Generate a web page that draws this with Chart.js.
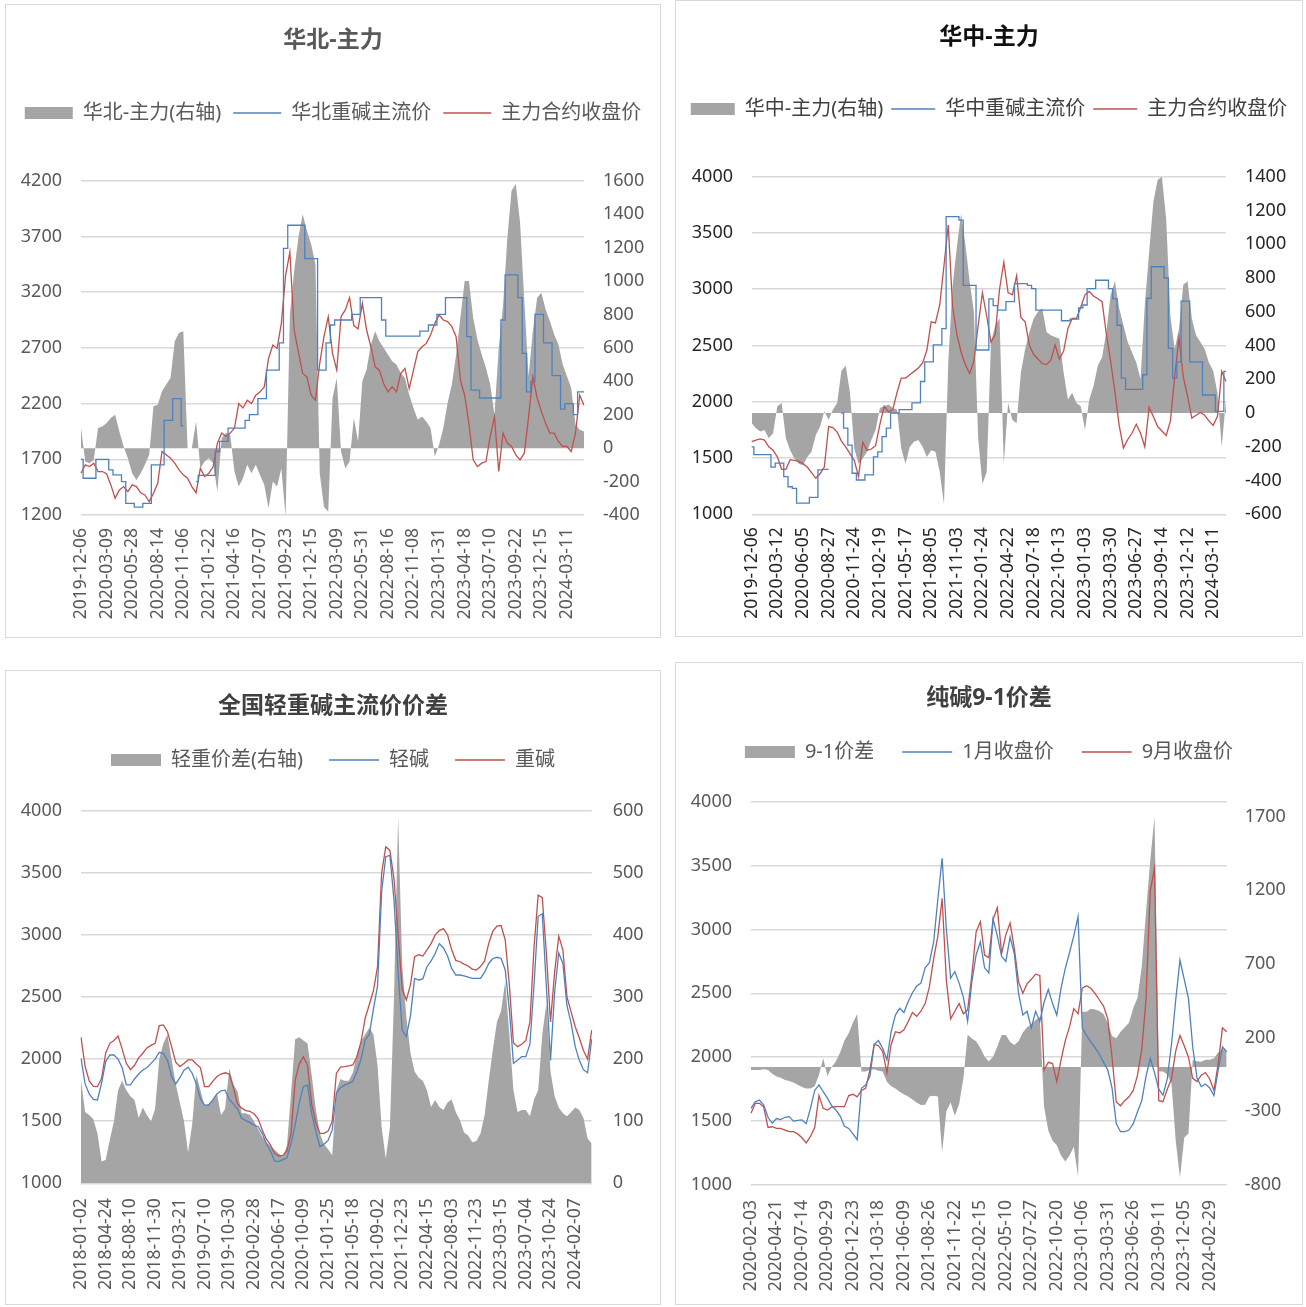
<!DOCTYPE html>
<html>
<head>
<meta charset="utf-8">
<script src="https://cdn.jsdelivr.net/npm/chart.js@4.4.0/dist/chart.umd.min.js"></script>
<style>
body { margin: 0; background: #fff; width: 1306px; height: 1307px; position: relative; overflow: hidden; }
.panel { position: absolute; border: 1px solid #d9d9d9; box-sizing: border-box; background: #fff; }
.panel canvas { display: block; }
</style>
</head>
<body>
<div class="panel" style="left:5px;top:4px;width:656px;height:634px"><canvas id="north" width="654" height="632"></canvas></div>
<div class="panel" style="left:675px;top:0px;width:628px;height:637px"><canvas id="central" width="626" height="635"></canvas></div>
<div class="panel" style="left:5px;top:670px;width:656px;height:635px"><canvas id="lightheavy" width="654" height="633"></canvas></div>
<div class="panel" style="left:675px;top:662px;width:628px;height:643px"><canvas id="spread91" width="626" height="641"></canvas></div>
<script>
// 华北-主力
var northDates = ['2019-12-06','2020-03-09','2020-05-28','2020-08-14','2020-11-06','2021-01-22','2021-04-16','2021-07-07','2021-09-23','2021-12-15','2022-03-09','2022-05-31','2022-08-16','2022-11-08','2023-01-31','2023-04-18','2023-07-10','2023-09-22','2023-12-15','2024-03-11'];
var northBasis = [120,-80,-90,-70,120,130,150,180,200,100,
  10,-60,-150,-190,-150,-100,-40,250,260,340,
  380,420,640,690,700,0,0,160,-120,-80,
  -60,-90,-260,60,90,80,-140,-230,-180,-100,
  -150,-100,-160,-220,-360,-200,-230,-120,-410,800,
  1060,1260,1400,1300,1220,1100,-150,-350,-380,300,
  420,-20,-120,-80,180,40,400,470,620,700,
  640,600,560,520,500,450,420,320,240,170,
  190,160,120,-50,20,120,270,380,560,780,
  1000,1000,780,650,560,480,380,200,600,850,
  1250,1540,1580,1350,880,430,700,900,930,830,
  760,680,620,500,430,360,140,110,100];
var northSpot = [1700,1530,1530,1530,1700,1700,1700,1605,1560,1560,
  1500,1305,1305,1270,1270,1305,1305,1650,1650,1650,
  2050,2050,2245,2245,2000,null,null,1500,1555,1555,
  1555,1555,1770,1860,1860,1980,1980,1980,1980,2050,
  2100,2100,2245,2245,2500,2500,2500,2745,3593,3800,
  3800,3800,3800,3500,3500,3500,2500,2500,2745,2905,
  2950,2950,2950,2950,3000,3000,3150,3150,3150,3150,
  3150,2950,2805,2805,2805,2805,2805,2805,2805,2805,
  2850,2850,2905,2905,3000,3000,3150,3150,3150,3150,
  3150,2800,2320,2320,2250,2250,2250,2250,2250,2950,
  3355,3355,3355,3150,2650,2305,2400,3000,3000,2745,
  2745,2450,2450,2150,2200,2200,2100,2305,2305];
var northFuture = [1574,1650,1635,1665,1590,1590,1570,1470,1350,1425,
  1455,1410,1470,1455,1400,1380,1320,1395,1485,1770,
  1740,1710,1665,1605,1560,1530,1455,1400,1620,1545,
  1575,1635,1845,1935,1905,1935,1980,2200,2160,2230,
  2200,2275,2305,2350,2605,2725,2695,2920,3350,3560,
  2860,2665,2470,2440,2275,2230,2560,2800,2980,2650,
  2500,2980,3040,3150,2900,2870,3100,2860,2710,2530,
  2500,2380,2305,2350,2305,2470,2515,2335,2500,2665,
  2710,2740,2815,2920,2995,2950,2935,2890,2800,2410,
  2275,2020,1695,1635,1665,1680,1905,2080,1590,1935,
  1845,1815,1740,1695,1755,2080,2440,2250,2130,2020,
  1935,1935,1860,1815,1815,1770,1935,2275,2185];

// 华中-主力
var centralDates = ['2019-12-06','2020-03-12','2020-06-05','2020-08-27','2020-11-24','2021-02-19','2021-05-17','2021-08-05','2021-11-03','2022-01-24','2022-04-22','2022-07-18','2022-10-13','2023-01-03','2023-03-30','2023-06-27','2023-09-14','2023-12-12','2024-03-11'];
var centralBasis = [-60,-90,-110,-100,-150,-120,40,60,-150,-220,
  -270,-300,-310,-260,-230,-130,-80,10,-40,20,
  60,250,280,120,-210,-300,-270,-230,-160,-100,
  30,40,50,30,20,-210,-300,-200,-170,-160,
  -200,-260,-220,-230,-350,-540,300,750,980,1180,
  1000,780,600,-150,-420,-350,420,520,560,-300,
  60,-40,-60,240,380,480,560,600,620,480,
  460,450,440,240,80,120,60,40,-100,80,
  160,280,330,480,700,780,620,520,420,360,
  300,200,640,950,1250,1380,1400,1150,570,380,
  500,760,780,560,460,420,380,300,250,120,
  -200,80];
var centralSpot = [1600,1530,1530,1530,1530,1420,1455,1455,1335,1245,
  1230,1100,1100,1100,1150,1150,1395,1400,1400,null,
  null,1900,1765,1615,1365,1305,1305,1350,1350,1510,
  1555,1690,1765,1900,1900,1930,1930,1930,1990,1990,
  2180,2355,2355,2505,2505,2650,3645,3645,3645,3615,
  3035,3035,3035,2460,2460,2460,2915,2855,2815,2815,
  2890,2890,3050,3050,3050,3035,3005,2815,2815,2815,
  2815,2815,2815,2720,2720,2735,2735,2835,2860,3005,
  3005,3080,3080,3080,3005,2915,2680,2210,2110,2110,
  2110,2110,2240,2920,3200,3200,3200,3100,2475,2210,
  2355,2895,2895,2355,2355,2355,2060,2060,2060,1915,
  1915,2270];
var centralFuture = [1645,1660,1670,1660,1600,1570,1510,1400,1400,1485,
  1480,1470,1450,1420,1370,1320,1360,1420,1780,1770,
  1730,1650,1600,1540,1480,1335,1640,1570,1580,1610,
  1800,1960,1910,1930,2080,2210,2210,2240,2270,2300,
  2345,2460,2710,2700,2860,3210,3570,2850,2600,2440,
  2330,2250,2360,2680,2970,2760,2530,2600,3000,3240,
  2970,2950,3120,2750,2710,2500,2420,2380,2340,2330,
  2370,2505,2380,2450,2650,2740,2740,2840,2950,2980,
  2940,2915,2890,2600,2360,2090,1790,1590,1665,1720,
  1800,1720,1600,1950,1870,1780,1740,1700,1830,2230,
  2570,2220,2050,1855,1880,1905,1880,1830,1790,1870,
  2270,2180];

// 全国轻重碱主流价价差
var lhDates = ['2018-01-02','2018-04-24','2018-08-10','2018-11-30','2019-03-21','2019-07-10','2019-10-30','2020-02-28','2020-06-17','2020-10-09','2021-01-25','2021-05-18','2021-09-02','2021-12-23','2022-04-15','2022-08-03','2022-11-23','2023-03-15','2023-07-04','2023-10-24','2024-02-07'];
var lhGap = [166,115,110,103,80,35,38,70,100,150,
  165,150,140,134,105,122,110,100,120,200,
  225,240,199,160,130,100,50,95,175,150,
  125,128,135,145,110,120,185,160,148,113,
  113,110,100,87,75,66,60,54,48,43,
  60,145,232,235,230,225,175,120,80,63,
  55,45,150,168,165,165,178,209,229,240,
  250,240,190,90,40,90,300,590,350,268,
  210,180,170,165,150,123,134,123,118,130,
  135,115,102,82,77,66,68,80,110,165,
  215,260,278,325,240,150,115,118,118,108,
  135,150,240,290,180,140,122,113,108,115,
  122,118,105,72,64];
var lightSoda = [2006,1800,1720,1675,1671,1807,1980,2033,2033,2000,
  1930,1792,1792,1840,1880,1912,1930,1966,2000,2055,
  2045,1990,1859,1800,1850,1910,1935,1886,1800,1680,
  1630,1630,1671,1720,1745,1750,1675,1640,1600,1523,
  1505,1490,1468,1456,1400,1320,1260,1180,1175,1190,
  1205,1322,1470,1650,1780,1790,1560,1420,1295,1315,
  1345,1430,1725,1770,1790,1805,1820,1900,2000,2154,
  2200,2400,2590,3350,3630,3640,3280,2700,2230,2181,
  2350,2650,2637,2645,2744,2790,2850,2930,2895,2830,
  2730,2677,2677,2670,2660,2650,2650,2650,2700,2770,
  2810,2820,2810,2720,2400,1966,1990,2020,2020,2120,
  2600,3150,3170,2580,1990,2540,2855,2770,2430,2290,
  2100,1990,1915,1890,2160];
var heavySoda = [2175,1940,1825,1780,1778,1843,2050,2127,2150,2185,
  2080,1966,1915,1950,2010,2047,2090,2110,2127,2270,
  2275,2220,2100,1975,1940,1965,1993,1993,1960,1930,
  1778,1778,1820,1860,1880,1890,1880,1770,1640,1605,
  1585,1580,1560,1520,1430,1355,1310,1240,1220,1225,
  1260,1402,1830,1960,2020,1950,1640,1490,1402,1402,
  1420,1500,1885,1935,1939,1945,1953,2020,2140,2330,
  2440,2550,2744,3500,3710,3680,3450,3000,2560,2476,
  2600,2825,2840,2830,2879,2930,3000,3035,3050,3000,
  2880,2795,2784,2765,2750,2725,2717,2745,2790,2932,
  3030,3070,3075,2960,2600,2130,2100,2120,2150,2300,
  2900,3320,3300,2850,2300,2700,2990,2880,2500,2380,
  2261,2170,2070,2000,2234];

// 纯碱9-1价差
var sdDates = ['2020-02-03','2020-04-21','2020-07-14','2020-09-29','2020-12-23','2021-03-18','2021-06-09','2021-08-26','2021-11-22','2022-02-15','2022-05-10','2022-07-27','2022-10-20','2023-01-06','2023-03-31','2023-06-26','2023-09-11','2023-12-05','2024-02-29'];
var sdSpread = [-20,-20,-20,-15,-20,-45,-64,-73,-87,-95,
  -105,-120,-135,-145,-145,-130,-54,60,-60,0,
  40,100,180,230,300,360,-30,-30,-20,-15,
  -25,-30,-100,-130,-145,-167,-185,-200,-220,-240,
  -258,-255,-200,-195,-200,-580,-300,-240,-330,-250,
  -80,220,194,175,130,70,40,70,140,217,
  217,170,150,175,235,270,290,320,340,-270,
  -430,-500,-530,-600,-640,-600,-540,-740,375,375,
  395,390,380,360,300,210,195,240,270,300,
  400,470,680,1050,1400,1700,-30,-30,-50,-110,
  -500,-750,-480,-450,50,40,36,50,50,60,
  100,125,104];
var janClose = [1600,1652,1665,1625,1530,1483,1520,1512,1530,1535,
  1500,1505,1509,1480,1600,1740,1783,1730,1680,1620,
  1587,1540,1460,1443,1400,1355,1757,1783,1850,2100,
  2130,2070,1980,2200,2330,2383,2350,2435,2505,2555,
  2580,2700,2740,2900,3240,3557,3000,2620,2670,2580,
  2470,2280,2591,2800,2904,2700,2660,3080,2950,2790,
  2750,2940,2810,2500,2330,2360,2230,2360,2280,2430,
  2530,2420,2330,2540,2696,2820,2950,3100,2230,2170,
  2120,2075,2025,1960,1900,1760,1480,1417,1417,1430,
  1480,1574,1660,1850,1990,1880,1750,1704,1830,2100,
  2450,2760,2610,2460,2080,1840,1770,1790,1760,1700,
  1900,2080,2043];
var sepClose = [1561,1639,1639,1610,1450,1456,1443,1443,1430,1417,
  1417,1400,1370,1330,1380,1450,1700,1600,1587,1610,
  1613,1613,1613,1700,1710,1690,1740,1757,1900,2100,
  2090,2045,1880,2100,2200,2190,2215,2278,2350,2320,
  2360,2420,2550,2770,2950,3244,2600,2300,2360,2420,
  2340,2370,2643,2980,3061,2800,2780,3080,3170,2810,
  2960,3050,2850,2590,2500,2575,2610,2650,2640,1900,
  1960,1950,1809,1980,2130,2240,2380,2340,2540,2560,
  2540,2500,2450,2400,2300,2000,1650,1620,1660,1690,
  1740,1860,2060,2450,3300,3480,1660,1652,1750,1830,
  2050,2170,2090,2000,1835,1810,1860,1880,1830,1740,
  1950,2230,2200];

Chart.defaults.font.family = "'Noto Sans', 'Noto Sans CJK SC', sans-serif";

// every 6th row carries a date, like the excel axis
function spreadLabels(dates, count, step) {
  var out = [];
  for (var i = 0; i < count; i++) {
    out.push(i % step === 0 && dates[i / step] ? dates[i / step] : '');
  }
  return out;
}

// excel counts ticks up from the axis minimum, chart.js from zero
function ticksFromMin(range) {
  return function(s) {
    var t = [];
    for (var v = range[0]; v <= range[1]; v += range[2]) t.push({ value: v });
    s.ticks = t;
  };
}

function plain(v) { return String(v); }

function makePanel(id, p) {
  return new Chart(document.getElementById(id), {
    type: 'line',
    data: {
      labels: spreadLabels(p.dates, p.area.length, 6),
      datasets: [
        { label: p.names[0], data: p.area, yAxisID: 'y1', fill: 'origin', backgroundColor: '#a5a5a5',
          borderColor: '#a5a5a5', borderWidth: 0, pointRadius: 0, pointStyle: 'rect', order: 3 },
        { label: p.names[1], data: p.blue, yAxisID: 'y', fill: false, borderColor: '#4f81bd',
          borderWidth: 1.3, pointRadius: 0, pointStyle: 'line', stepped: p.stepped, order: 1 },
        { label: p.names[2], data: p.red, yAxisID: 'y', fill: false, borderColor: '#c0504d',
          borderWidth: 1.3, pointRadius: 0, pointStyle: 'line', order: 2 }
      ]
    },
    options: {
      responsive: false,
      animation: false,
      layout: { padding: 0 },
      plugins: {
        title: { display: true, text: p.title, color: p.titleColor, font: { size: 23, weight: 'bold' },
          padding: { top: p.titleTop, bottom: p.titleBottom } },
        subtitle: { display: true, text: '', weight: 100, font: { size: 1, lineHeight: 1 },
          padding: { top: p.gap - 1, bottom: 0 } },
        legend: {
          labels: { usePointStyle: true, pointStyleWidth: p.keyWidth, boxHeight: 12, padding: p.legendPad,
            color: p.textColor, font: { size: 20 },
            sort: function(a, b) { return a.datasetIndex - b.datasetIndex; } }
        },
        tooltip: { enabled: false }
      },
      scales: {
        x: {
          grid: { display: false, drawTicks: false }, border: { display: false },
          ticks: { autoSkip: false, maxRotation: 90, minRotation: 90, padding: p.xPad, color: p.tickColor, font: { size: 17.5 } },
          afterFit: function(s) { s.height = p.xHeight; }
        },
        y: {
          position: 'left', min: p.left[0], max: p.left[1],
          ticks: { stepSize: p.left[2], padding: p.leftPad, color: p.tickColor, font: { size: 18 }, callback: plain },
          grid: { color: '#d9d9d9', lineWidth: 1.5, drawTicks: false }, border: { display: false },
          afterBuildTicks: ticksFromMin(p.left),
          afterFit: function(s) { s.width = p.leftW; }
        },
        y1: {
          position: 'right', min: p.right[0], max: p.right[1],
          ticks: { stepSize: p.right[2], padding: p.rightPad, color: p.tickColor, font: { size: 18 }, callback: plain },
          grid: { display: false, drawTicks: false }, border: { display: false },
          afterBuildTicks: ticksFromMin(p.right),
          afterFit: function(s) { s.width = p.rightW; }
        }
      }
    }
  });
}

makePanel('north', {
  title: '华北-主力', names: ['华北-主力(右轴)', '华北重碱主流价', '主力合约收盘价'],
  dates: northDates, area: northBasis, blue: northSpot, red: northFuture, stepped: 'middle',
  left: [1200, 4200, 500], right: [-400, 1600, 200],
  titleColor: '#595959', textColor: '#595959', tickColor: '#595959',
  titleTop: 21.2, titleBottom: 37.2, legendPad: 12, keyWidth: 48, gap: 47.7,
  xHeight: 122, xPad: 13, leftW: 75, rightW: 76, leftPad: 19, rightPad: 19
});

makePanel('central', {
  title: '华中-主力', names: ['华中-主力(右轴)', '华中重碱主流价', '主力合约收盘价'],
  dates: centralDates, area: centralBasis, blue: centralSpot, red: centralFuture, stepped: 'middle',
  left: [1000, 4000, 500], right: [-600, 1400, 200],
  titleColor: '#111111', textColor: '#404040', tickColor: '#262626',
  titleTop: 22.2, titleBottom: 40.2, legendPad: 8, keyWidth: 44, gap: 47.7,
  xHeight: 121.7, xPad: 13, leftW: 75.7, rightW: 76, leftPad: 18.7, rightPad: 19
});

makePanel('lightheavy', {
  title: '全国轻重碱主流价价差', names: ['轻重价差(右轴)', '轻碱', '重碱'],
  dates: lhDates, area: lhGap, blue: lightSoda, red: heavySoda, stepped: false,
  left: [1000, 4000, 500], right: [0, 600, 100],
  titleColor: '#404040', textColor: '#595959', tickColor: '#595959',
  titleTop: 21.2, titleBottom: 4.2, legendPad: 26, keyWidth: 50, gap: 30.7,
  xHeight: 120.7, xPad: 15, leftW: 75, rightW: 68.3, leftPad: 19, rightPad: 21
});

makePanel('spread91', {
  title: '纯碱9-1价差', names: ['9-1价差', '1月收盘价', '9月收盘价'],
  dates: sdDates, area: sdSpread, blue: janClose, red: sepClose, stepped: false,
  left: [1000, 4000, 500], right: [-800, 1800, 500],
  titleColor: '#404040', textColor: '#595959', tickColor: '#595959',
  titleTop: 21.2, titleBottom: 2.2, legendPad: 28, keyWidth: 50, gap: 29.7,
  xHeight: 119, xPad: 15, leftW: 75, rightW: 75.3, leftPad: 19, rightPad: 18
});
</script>
</body>
</html>
